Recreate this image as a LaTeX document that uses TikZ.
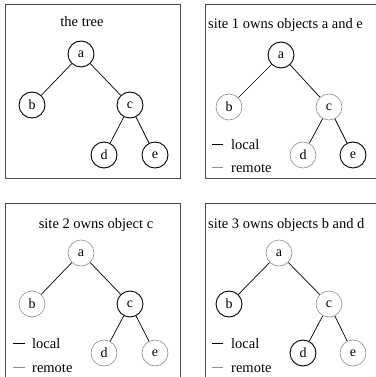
\documentclass[tikz,border=0pt]{standalone}
\usepackage{fontspec}
\setmainfont{Liberation Serif}
\begin{document}
\begin{tikzpicture}[x=1pt,y=-1pt,
  frame/.style={draw=black!70,line width=0.9pt},
  loc/.style={circle,draw=black,line width=0.9pt,minimum size=26pt,inner sep=0pt,font=\fontsize{14}{14}\selectfont},
  rem/.style={circle,draw=black!45,line width=0.6pt,minimum size=26pt,inner sep=0pt,font=\fontsize{14}{14}\selectfont},
  edge/.style={draw=black,line width=0.7pt},
  lbl/.style={font=\fontsize{14.5}{14.5}\selectfont,inner sep=0pt},
  legloc/.style={draw=black,line width=1pt},
  legrem/.style={draw=black!45,line width=0.6pt}]
\useasboundingbox (0,0) rectangle (375,377);
% frames
\draw[frame] (5,4) rectangle (180,178);
\draw[frame] (380,4) -- (205,4) -- (205,178) -- (380,178);
\draw[frame] (5,380) -- (5,203) -- (180,203) -- (180,380);
\draw[frame] (205,380) -- (205,203) -- (380,203);
% panel 1
\node[lbl,anchor=base] (t1) at (82,27) {the tree};
\node[loc] (a1) at (81,54) {a};
\node[loc] (b1) at (32,105) {b};
\node[loc] (c1) at (130,105) {c};
\node[loc] (d1) at (104,155) {d};
\node[loc] (e1) at (155,155) {e};
\draw[edge] (a1) -- (b1); \draw[edge] (a1) -- (c1);
\draw[edge] (c1) -- (d1); \draw[edge] (c1) -- (e1);
% panel 2
\node[lbl,anchor=base west] (t2) at (208,29) {site 1 owns objects a and e};
\node[loc] (a2) at (281,55) {a};
\node[rem] (b2) at (229,107) {b};
\node[rem] (c2) at (329,107) {c};
\node[rem] (d2) at (303,155) {d};
\node[loc] (e2) at (353,155) {e};
\draw[edge] (a2) -- (b2); \draw[edge] (a2) -- (c2);
\draw[edge] (c2) -- (d2); \draw[edge] (c2) -- (e2);
\coordinate (l2a) at (212,144); \coordinate (l2b) at (223,144);
\coordinate (r2a) at (212,167); \coordinate (r2b) at (223,167);
\draw[legloc] (l2a) -- (l2b); \draw[legrem] (r2a) -- (r2b);
\node[lbl,anchor=base west] (lt2) at (231,149) {local};
\node[lbl,anchor=base west] (rt2) at (231,172) {remote};
% panel 3
\node[lbl,anchor=base] (t3) at (96,228) {site 2 owns object c};
\node[rem] (a3) at (81,253) {a};
\node[rem] (b3) at (32,304) {b};
\node[loc] (c3) at (130,304) {c};
\node[rem] (d3) at (104,353) {d};
\node[rem] (e3) at (155,353) {e};
\draw[edge] (a3) -- (b3); \draw[edge] (a3) -- (c3);
\draw[edge] (c3) -- (d3); \draw[edge] (c3) -- (e3);
\coordinate (l3a) at (13,343); \coordinate (l3b) at (25,343);
\coordinate (r3a) at (13,367); \coordinate (r3b) at (25,367);
\draw[legloc] (l3a) -- (l3b); \draw[legrem] (r3a) -- (r3b);
\node[lbl,anchor=base west] (lt3) at (32,348) {local};
\node[lbl,anchor=base west] (rt3) at (32,372) {remote};
% panel 4
\node[lbl,anchor=base west] (t4) at (208,228) {site 3 owns objects b and d};
\node[rem] (a4) at (279,253) {a};
\node[loc] (b4) at (229,304) {b};
\node[rem] (c4) at (329,304) {c};
\node[loc] (d4) at (303,353) {d};
\node[rem] (e4) at (353,353) {e};
\draw[edge] (a4) -- (b4); \draw[edge] (a4) -- (c4);
\draw[edge] (c4) -- (d4); \draw[edge] (c4) -- (e4);
\coordinate (l4a) at (212,343); \coordinate (l4b) at (223,343);
\coordinate (r4a) at (212,367); \coordinate (r4b) at (223,367);
\draw[legloc] (l4a) -- (l4b); \draw[legrem] (r4a) -- (r4b);
\node[lbl,anchor=base west] (lt4) at (231,348) {local};
\node[lbl,anchor=base west] (rt4) at (231,372) {remote};
\end{tikzpicture}
\end{document}
